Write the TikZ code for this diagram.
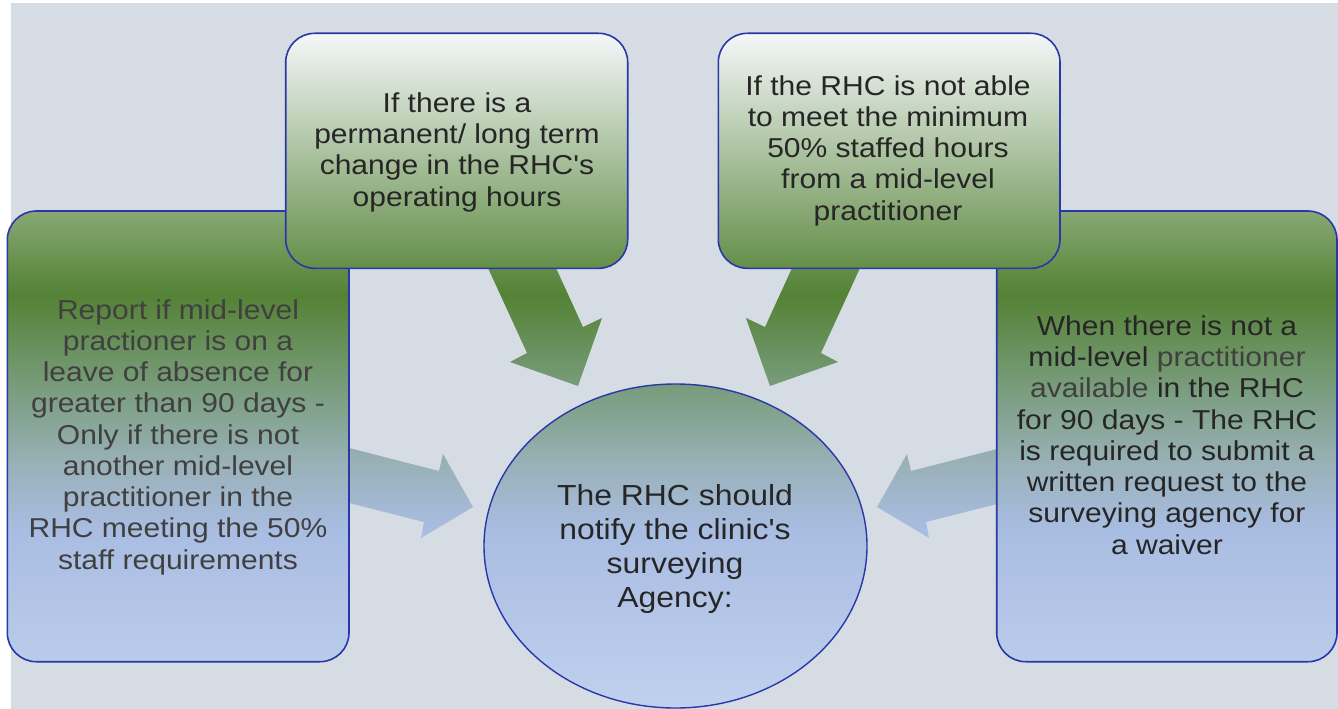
\documentclass[tikz,border=0pt]{standalone}
\usepackage{fontspec}
\usetikzlibrary{shapes.geometric}
\newfontfamily\rf[FakeStretch=1.1]{Liberation Sans}
\definecolor{bggray}{HTML}{D6DCE4}
\definecolor{edgeblue}{HTML}{2A37A8}
\definecolor{txtdark}{HTML}{262626}
\definecolor{txtgray}{HTML}{404040}
\definecolor{cW}{HTML}{F4F7F9}
\definecolor{cG}{HTML}{548235}
\definecolor{cGG}{HTML}{7A9D7E}
\definecolor{cGB}{HTML}{98B0B5}
\definecolor{cBl}{HTML}{A9BDE2}
\definecolor{cB}{HTML}{C0D1EE}
\pgfdeclareverticalshading{global}{100bp}{color(0bp)=(cB); color(25bp)=(cB); color(37.62bp)=(cBl); color(42.56bp)=(cGB); color(47.50bp)=(cGG); color(54.20bp)=(cG); color(72.60bp)=(cW); color(100bp)=(cW)}
\newcommand\gfill[1]{\begin{scope}\clip #1; \shade[shading=global] (0,0) rectangle (1338,709);\end{scope}}
\begin{document}
\begin{tikzpicture}[x=1pt,y=-1pt,
  box/.style={draw=edgeblue, line width=1.6pt, rounded corners=29pt, rectangle, inner sep=0pt},
  hubstyle/.style={draw=edgeblue, line width=1.4pt, ellipse, inner sep=0pt},
  txt/.style={align=center, inner sep=0pt, text=txtdark, font=\rf\fontsize{27.3}{31.25}\selectfont},
  hubtxt/.style={align=center, inner sep=0pt, text=txtdark, font=\rf\fontsize{29}{33.7}\selectfont}]
\useasboundingbox (0,0) rectangle (1338,709);
\fill[white] (0,0) rectangle (1338,709);
\fill[bggray] (11,3) rectangle (1338,709);
% block arrows
\gfill{(483.4,258) -- (527,353) -- (510,362) -- (578,386) -- (602,318) -- (583,327) -- (551.4,258) -- cycle}
\gfill{(864.6,258) -- (821,353) -- (838,362) -- (770,386) -- (746,318) -- (765,327) -- (796.6,258) -- cycle}
\gfill{(340,445.7) -- (439,471) -- (443,454) -- (473,507) -- (421,538) -- (424,522) -- (340,500.7) -- cycle}
\gfill{(1010,445.7) -- (911,471) -- (907,454) -- (877,507) -- (929,538) -- (926,522) -- (1010,500.7) -- cycle}
% side boxes
\gfill{[rounded corners=29pt] (7.3,211) rectangle (349,661.7)}
\node[box, minimum width=341.7pt, minimum height=450.7pt] (left) at (178.15,436.35) {};
\gfill{[rounded corners=29pt] (996.7,211) rectangle (1337,661.7)}
\node[box, minimum width=340.3pt, minimum height=450.7pt] (right) at (1166.85,436.35) {};
% top boxes
\gfill{[rounded corners=29pt] (285.7,33.3) rectangle (627.7,268.3)}
\node[box, minimum width=342pt, minimum height=235pt] (tl) at (456.7,150.8) {};
\gfill{[rounded corners=29pt] (718.3,33.3) rectangle (1060,268.3)}
\node[box, minimum width=341.7pt, minimum height=235pt] (tr) at (889.15,150.8) {};
% hub
\gfill{(675.5,546) ellipse [x radius=191.5, y radius=162]}
\node[hubstyle, minimum width=383pt, minimum height=324pt] (hub) at (675.5,546) {};
% texts (anchor base = baseline of the last line)
\node[txt, anchor=base] (tl-text) at (457,206) {If there is a\\permanent/ long term\\change in the RHC's\\operating hours};
\node[txt, anchor=base] (tr-text) at (888,220) {If the RHC is not able\\to meet the minimum\\50\% staffed hours\\from a mid-level\\practitioner};
\node[txt, anchor=base, text=txtgray] (left-text) at (178,569) {Report if mid-level\\practioner is on a\\leave of absence for\\greater than 90 days -\\Only if there is not\\another mid-level\\practitioner in the\\RHC meeting the 50\%\\staff requirements};
\node[txt, anchor=base] (right-text) at (1167,554) {When there is not a\\mid-level \textcolor{txtgray}{practitioner}\\\textcolor{txtgray}{available} in the RHC\\for 90 days - The RHC\\is required to submit a\\written request to the\\surveying agency for\\a waiver};
\node[hubtxt, anchor=base] (hub-text) at (675,607) {The RHC should\\notify the clinic's\\surveying\\Agency:};
\end{tikzpicture}
\end{document}
